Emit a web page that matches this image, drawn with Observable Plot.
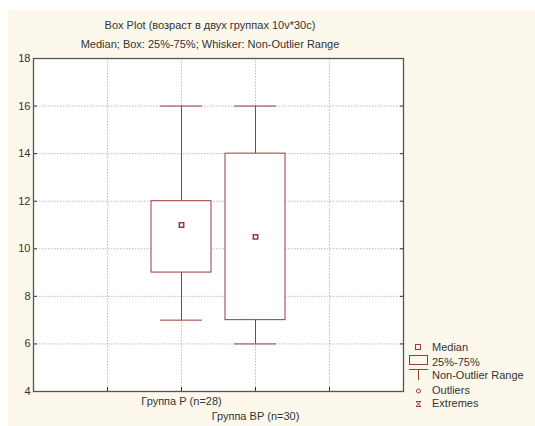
<!DOCTYPE html>
<html>
<head>
<meta charset="utf-8">
<script src="https://cdn.jsdelivr.net/npm/d3@7"></script>
<script src="https://cdn.jsdelivr.net/npm/@observablehq/plot@0.6"></script>
<style>
  body { margin: 0; background: #fff; }
  #wrap { position: relative; width: 535px; height: 426px; overflow: hidden;
          font-family: "Liberation Sans", Arial, sans-serif; color: #333; }
  #bg { position: absolute; left: 8px; top: 10px; right: 0; bottom: 0; background: #fdf8ec; }
  #chart { position: absolute; left: 0; top: 0; }
  .ttl { position: absolute; left: 0; width: 420px; text-align: center; font-size: 11px; line-height: 14px; white-space: nowrap; }
  .lg { position: absolute; left: 432px; font-size: 11px; line-height: 14px; white-space: nowrap; }
  #icons { position: absolute; left: 0; top: 0; pointer-events: none; }
</style>
</head>
<body>
<div id="wrap">
  <div id="bg"></div>
  <div id="chart"></div>
  <div class="ttl" style="top:18px">Box Plot (возраст в двух группах 10v*30c)</div>
  <div class="ttl" style="top:37px">Median; Box: 25%-75%; Whisker: Non-Outlier Range</div>
  <svg id="icons" width="535" height="426">
    <g fill="none" stroke="#9c3a3a" stroke-width="1">
      <rect x="415.5" y="344.5" width="5" height="5"></rect>
      <rect x="409.5" y="355.5" width="18" height="9"></rect>
      <line x1="409" x2="428" y1="369.5" y2="369.5"></line>
      <line x1="418.5" x2="418.5" y1="369.5" y2="380"></line>
      <circle cx="418.5" cy="391" r="2"></circle>
      <line x1="416" x2="421" y1="401.5" y2="401.5"></line>
      <line x1="416" x2="421" y1="406.5" y2="406.5"></line>
      <line x1="416.5" x2="420.5" y1="402" y2="406"></line>
      <line x1="420.5" x2="416.5" y1="402" y2="406"></line>
    </g>
  </svg>
  <div class="lg" style="top:340px">Median</div>
  <div class="lg" style="top:355px">25%-75%</div>
  <div class="lg" style="top:368px">Non-Outlier Range</div>
  <div class="lg" style="top:383px">Outliers</div>
  <div class="lg" style="top:396px">Extremes</div>
</div>
<script>
// ---- data ----
const groups = ["Группа Р (n=28)", "Группа ВР (n=30)"];
const medians = [11, 10.5];
const q1 = [9, 7];
const q3 = [12, 14];
const whiskerLow = [7, 6];
const whiskerHigh = [16, 16];
const yTicks = [4, 6, 8, 10, 12, 14, 16, 18];
const gridTicks = [6, 8, 10, 12, 14, 16];

const table = groups.map((g, i) => ({
  group: g, median: medians[i], q1: q1[i], q3: q3[i], lo: whiskerLow[i], hi: whiskerHigh[i]
}));
const xDomain = [" ", ...groups, "  "];
const red = "#9c3a3a";
const blank = () => "";

const chart = Plot.plot({
  width: 535,
  height: 426,
  marginLeft: 33,
  marginRight: 132,
  marginTop: 58,
  marginBottom: 35,
  style: { background: "transparent", fontFamily: "'Liberation Sans', Arial, sans-serif", fontSize: "11px", color: "#333" },
  x: { type: "band", domain: xDomain, paddingInner: 0, paddingOuter: 0.5, axis: null },
  y: { domain: [4, 18], axis: null },
  marks: [
    Plot.frame({ fill: "white", stroke: null }),
    Plot.gridY(gridTicks, { stroke: "#bdbdbd", strokeOpacity: 1, strokeDasharray: "1.5,1.5" }),
    Plot.gridX(xDomain, { stroke: "#bdbdbd", strokeOpacity: 1, strokeDasharray: "1.5,1.5" }),
    Plot.axisY(yTicks, { anchor: "left", tickSize: 4, dx: 4, tickFormat: blank, stroke: "#333", label: null }),
    Plot.axisY(yTicks, { anchor: "right", tickSize: 4, dx: -4, tickFormat: blank, stroke: "#333", label: null }),
    Plot.axisY(yTicks, { anchor: "left", tickSize: 0, tickPadding: 3, fill: "#333", label: null }),
    Plot.axisX(xDomain, { anchor: "bottom", tickSize: 4, dy: -4, tickFormat: blank, stroke: "#333", label: null }),
    Plot.axisX([groups[0]], { anchor: "bottom", tickSize: 0, tickPadding: 6, fill: "#333", label: null }),
    Plot.axisX([groups[1]], { anchor: "bottom", tickSize: 0, tickPadding: 21, fill: "#333", label: null }),
    Plot.ruleX(table, { x: "group", y1: "lo", y2: "q1", stroke: red }),
    Plot.ruleX(table, { x: "group", y1: "q3", y2: "hi", stroke: red }),
    Plot.tickY(table, { x: "group", y: "lo", insetLeft: 16, insetRight: 16, stroke: red }),
    Plot.tickY(table, { x: "group", y: "hi", insetLeft: 16, insetRight: 16, stroke: red }),
    Plot.barY(table, { x: "group", y1: "q1", y2: "q3", fill: "white", stroke: red, insetLeft: 7, insetRight: 7 }),
    Plot.dot(table, { x: "group", y: "median", symbol: "square", r: 2.5, stroke: red, fill: "white" }),
    Plot.frame({ stroke: "#555", strokeWidth: 1.3 })
  ]
});
document.getElementById("chart").appendChild(chart);
</script>
</body>
</html>
